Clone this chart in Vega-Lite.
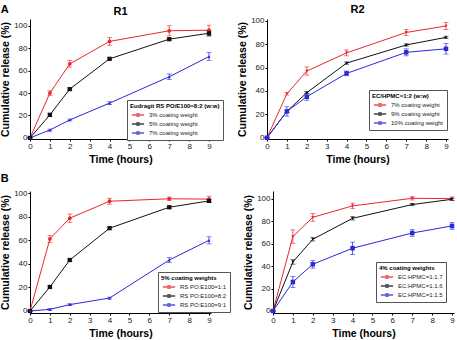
{
  "$schema": "https://vega.github.io/schema/vega-lite/v6.json",
  "padding": {"left": 0, "top": 3, "right": 1, "bottom": 2},
  "background": "white",
  "datasets": {
    "a1": [
      {"t": 0, "pct": 0, "err": 0, "s": "3% coating weight"},
      {"t": 1, "pct": 40, "err": 2, "s": "3% coating weight"},
      {"t": 2, "pct": 66, "err": 3, "s": "3% coating weight"},
      {"t": 4, "pct": 86, "err": 3.5, "s": "3% coating weight"},
      {"t": 7, "pct": 95.5, "err": 4.5, "s": "3% coating weight"},
      {"t": 9, "pct": 96, "err": 4.5, "s": "3% coating weight"},
      {"t": 0, "pct": 0, "err": 0, "s": "5% coating weight"},
      {"t": 1, "pct": 20.5, "err": 1.5, "s": "5% coating weight"},
      {"t": 2, "pct": 43.5, "err": 1, "s": "5% coating weight"},
      {"t": 4, "pct": 70.5, "err": 1, "s": "5% coating weight"},
      {"t": 7, "pct": 88, "err": 1, "s": "5% coating weight"},
      {"t": 9, "pct": 93.3, "err": 2.5, "s": "5% coating weight"},
      {"t": 0, "pct": 0, "err": 0, "s": "7% coating weight"},
      {"t": 1, "pct": 7, "err": 0.8, "s": "7% coating weight"},
      {"t": 2, "pct": 16, "err": 0.8, "s": "7% coating weight"},
      {"t": 4, "pct": 31, "err": 1.2, "s": "7% coating weight"},
      {"t": 7, "pct": 54.5, "err": 2.5, "s": "7% coating weight"},
      {"t": 9, "pct": 72.5, "err": 3.5, "s": "7% coating weight"}
    ],
    "a2": [
      {"t": 0, "pct": 0, "err": 0, "s": "7% coating weight"},
      {"t": 1, "pct": 37.5, "err": 1, "s": "7% coating weight"},
      {"t": 2, "pct": 57, "err": 3.5, "s": "7% coating weight"},
      {"t": 4, "pct": 72.5, "err": 2.5, "s": "7% coating weight"},
      {"t": 7, "pct": 90, "err": 2.5, "s": "7% coating weight"},
      {"t": 9, "pct": 95.5, "err": 3, "s": "7% coating weight"},
      {"t": 0, "pct": 0, "err": 0, "s": "9% coating weight"},
      {"t": 1, "pct": 22.5, "err": 1, "s": "9% coating weight"},
      {"t": 2, "pct": 38.5, "err": 1, "s": "9% coating weight"},
      {"t": 4, "pct": 63.8, "err": 1, "s": "9% coating weight"},
      {"t": 7, "pct": 79.3, "err": 1, "s": "9% coating weight"},
      {"t": 9, "pct": 85.8, "err": 1, "s": "9% coating weight"},
      {"t": 0, "pct": 0, "err": 0, "s": "10% coating weight"},
      {"t": 1, "pct": 22.5, "err": 4, "s": "10% coating weight"},
      {"t": 2, "pct": 35, "err": 3, "s": "10% coating weight"},
      {"t": 4, "pct": 55, "err": 2, "s": "10% coating weight"},
      {"t": 7, "pct": 73, "err": 3, "s": "10% coating weight"},
      {"t": 9, "pct": 76, "err": 4.5, "s": "10% coating weight"}
    ],
    "b1": [
      {"t": 0, "pct": 0, "err": 0, "s": "RS PO:E100=1:1"},
      {"t": 1, "pct": 61.2, "err": 3, "s": "RS PO:E100=1:1"},
      {"t": 2, "pct": 78.8, "err": 3.5, "s": "RS PO:E100=1:1"},
      {"t": 4, "pct": 93.2, "err": 2.5, "s": "RS PO:E100=1:1"},
      {"t": 7, "pct": 95.3, "err": 1.5, "s": "RS PO:E100=1:1"},
      {"t": 9, "pct": 95, "err": 2.5, "s": "RS PO:E100=1:1"},
      {"t": 0, "pct": 0, "err": 0, "s": "RS PO:E100=8:2"},
      {"t": 1, "pct": 20.4, "err": 1, "s": "RS PO:E100=8:2"},
      {"t": 2, "pct": 43.3, "err": 1, "s": "RS PO:E100=8:2"},
      {"t": 4, "pct": 70.3, "err": 1, "s": "RS PO:E100=8:2"},
      {"t": 7, "pct": 88.1, "err": 1, "s": "RS PO:E100=8:2"},
      {"t": 9, "pct": 93.5, "err": 1.5, "s": "RS PO:E100=8:2"},
      {"t": 0, "pct": 0, "err": 0, "s": "RS PO:E100=9:1"},
      {"t": 1, "pct": 1.4, "err": 0.8, "s": "RS PO:E100=9:1"},
      {"t": 2, "pct": 5.4, "err": 0.8, "s": "RS PO:E100=9:1"},
      {"t": 4, "pct": 11, "err": 0.8, "s": "RS PO:E100=9:1"},
      {"t": 7, "pct": 43.3, "err": 2, "s": "RS PO:E100=9:1"},
      {"t": 9, "pct": 60, "err": 3, "s": "RS PO:E100=9:1"}
    ],
    "b2": [
      {"t": 0, "pct": 0, "err": 0, "s": "EC:HPMC=1:1.7"},
      {"t": 1, "pct": 66.4, "err": 6, "s": "EC:HPMC=1:1.7"},
      {"t": 2, "pct": 83.6, "err": 3.5, "s": "EC:HPMC=1:1.7"},
      {"t": 4, "pct": 93.8, "err": 2.5, "s": "EC:HPMC=1:1.7"},
      {"t": 7, "pct": 100.6, "err": 1.5, "s": "EC:HPMC=1:1.7"},
      {"t": 9, "pct": 100.3, "err": 1.5, "s": "EC:HPMC=1:1.7"},
      {"t": 0, "pct": 0, "err": 0, "s": "EC:HPMC=1:1.6"},
      {"t": 1, "pct": 43.8, "err": 2, "s": "EC:HPMC=1:1.6"},
      {"t": 2, "pct": 64, "err": 1.5, "s": "EC:HPMC=1:1.6"},
      {"t": 4, "pct": 82.7, "err": 1.5, "s": "EC:HPMC=1:1.6"},
      {"t": 7, "pct": 95, "err": 1, "s": "EC:HPMC=1:1.6"},
      {"t": 9, "pct": 99.7, "err": 1, "s": "EC:HPMC=1:1.6"},
      {"t": 0, "pct": 0, "err": 0, "s": "EC:HPMC=1:1.5"},
      {"t": 1, "pct": 25.9, "err": 5, "s": "EC:HPMC=1:1.5"},
      {"t": 2, "pct": 41.7, "err": 3.5, "s": "EC:HPMC=1:1.5"},
      {"t": 4, "pct": 56, "err": 5.5, "s": "EC:HPMC=1:1.5"},
      {"t": 7, "pct": 69.6, "err": 3, "s": "EC:HPMC=1:1.5"},
      {"t": 9, "pct": 75.9, "err": 3, "s": "EC:HPMC=1:1.5"}
    ]
  },
  "config": {
    "font": "Liberation Sans",
    "view": {"stroke": null},
    "axis": {
      "grid": false,
      "domainColor": "#000",
      "tickColor": "#000",
      "tickSize": 2,
      "labelFont": "Liberation Sans",
      "labelFontSize": 8,
      "labelColor": "#222",
      "labelPadding": 1,
      "labelFlush": false,
      "labelOverlap": false,
      "titleFont": "Liberation Sans",
      "titleFontSize": 10.5,
      "titleFontWeight": "bold",
      "titleColor": "#000"
    },
    "title": {"font": "Liberation Sans", "fontSize": 11, "fontWeight": "bold", "color": "#000", "offset": 2},
    "legend": {
      "titleFont": "Liberation Sans",
      "titleFontSize": 6,
      "titleFontWeight": "bold",
      "titleColor": "#000",
      "titlePadding": 2,
      "labelFont": "Liberation Sans",
      "labelFontSize": 6,
      "labelColor": "#222",
      "strokeColor": "#555",
      "fillColor": "white",
      "padding": 3,
      "rowPadding": 1,
      "symbolSize": 49,
      "symbolOffset": 4,
      "labelOffset": 7,
      "symbolStrokeWidth": 1,
      "symbolType": "M-1.7,-0.06H1.7V0.06H-1.7Z M-0.4,-0.4H0.4V0.4H-0.4Z"
    }
  },
  "resolve": {
    "scale": {"color": "independent"},
    "legend": {"color": "independent"}
  },
  "spacing": 8,
  "vconcat": [
    {
      "title": {"text": "A", "anchor": "start", "frame": "bounds", "offset": -11},
      "spacing": 13,
      "resolve": {"scale": {"color": "independent"}, "legend": {"color": "independent"}},
      "hconcat": [
        {
          "width": 181,
          "height": 120,
          "title": "R1",
          "data": {"name": "a1"},
          "encoding": {
            "x": {"field": "t", "type": "quantitative", "scale": {"domain": [0, 9.1]}, "axis": {"values": [0, 1, 2, 3, 4, 5, 6, 7, 8, 9], "title": "Time (hours)", "titlePadding": 4}},
            "y": {"field": "pct", "type": "quantitative", "scale": {"domain": [-1, 106]}, "axis": {"values": [0, 20, 40, 60, 80, 100], "title": "Cumulative release (%)", "titlePadding": 3}},
            "color": {"field": "s", "type": "nominal", "scale": {"domain": ["3% coating weight", "5% coating weight", "7% coating weight"], "range": ["#e8262c", "#111111", "#2a2ad8"]}, "legend": {"orient": "none", "legendX": 97, "legendY": 81, "title": "Eudragit RS PO/E100=8:2 (w:w)"}}
          },
          "layer": [
            {"mark": {"type": "line", "strokeWidth": 1}},
            {"mark": {"type": "errorbar", "thickness": 0.8, "ticks": {"size": 5, "thickness": 0.8}}, "encoding": {"yError": {"field": "err"}}},
            {"transform": [{"filter": {"field": "s", "equal": "3% coating weight"}}], "mark": {"type": "point", "filled": true, "opacity": 1, "shape": "circle", "size": 14}},
            {"transform": [{"filter": {"field": "s", "equal": "5% coating weight"}}], "mark": {"type": "point", "filled": true, "opacity": 1, "shape": "square", "size": 18}},
            {"transform": [{"filter": {"field": "s", "equal": "7% coating weight"}}], "mark": {"type": "point", "filled": true, "opacity": 1, "shape": "triangle-up", "size": 10}}
          ]
        },
        {
          "width": 181,
          "height": 120,
          "title": "R2",
          "data": {"name": "a2"},
          "encoding": {
            "x": {"field": "t", "type": "quantitative", "scale": {"domain": [0, 9.1]}, "axis": {"values": [0, 1, 2, 3, 4, 5, 6, 7, 8, 9], "title": "Time (hours)", "titlePadding": 4}},
            "y": {"field": "pct", "type": "quantitative", "scale": {"domain": [-1.1, 101.5]}, "axis": {"values": [0, 20, 40, 60, 80, 100], "title": "Cumulative release (%)", "titlePadding": 3}},
            "color": {"field": "s", "type": "nominal", "scale": {"domain": ["7% coating weight", "9% coating weight", "10% coating weight"], "range": ["#e8262c", "#111111", "#2a2ad8"]}, "legend": {"orient": "none", "legendX": 102, "legendY": 71, "title": "EC/HPMC=1:2 (w:w)"}}
          },
          "layer": [
            {"mark": {"type": "line", "strokeWidth": 1}},
            {"mark": {"type": "errorbar", "thickness": 0.8, "ticks": {"size": 5, "thickness": 0.8}}, "encoding": {"yError": {"field": "err"}}},
            {"transform": [{"filter": {"field": "s", "equal": "7% coating weight"}}], "mark": {"type": "point", "filled": true, "opacity": 1, "shape": "triangle-down", "size": 10}},
            {"transform": [{"filter": {"field": "s", "equal": "9% coating weight"}}], "mark": {"type": "point", "filled": true, "opacity": 1, "shape": "diamond", "size": 9}},
            {"transform": [{"filter": {"field": "s", "equal": "10% coating weight"}}], "mark": {"type": "point", "filled": true, "opacity": 1, "shape": "square", "size": 20}}
          ]
        }
      ]
    },
    {
      "title": {"text": "B", "anchor": "start", "frame": "bounds", "offset": 5},
      "spacing": 12,
      "resolve": {"scale": {"color": "independent"}, "legend": {"color": "independent"}},
      "hconcat": [
        {
          "width": 181,
          "height": 122,
          "data": {"name": "b1"},
          "encoding": {
            "x": {"field": "t", "type": "quantitative", "scale": {"domain": [0, 9.1]}, "axis": {"values": [0, 1, 2, 3, 4, 5, 6, 7, 8, 9], "title": "Time (hours)", "titlePadding": 4}},
            "y": {"field": "pct", "type": "quantitative", "scale": {"domain": [-1.7, 101.9]}, "axis": {"values": [0, 20, 40, 60, 80, 100], "title": "Cumulative release (%)", "titlePadding": 3}},
            "color": {"field": "s", "type": "nominal", "scale": {"domain": ["RS PO:E100=1:1", "RS PO:E100=8:2", "RS PO:E100=9:1"], "range": ["#e8262c", "#111111", "#2a2ad8"]}, "legend": {"orient": "none", "legendX": 128, "legendY": 81, "title": "5% coating weights"}}
          },
          "layer": [
            {"mark": {"type": "line", "strokeWidth": 1}},
            {"mark": {"type": "errorbar", "thickness": 0.8, "ticks": {"size": 5, "thickness": 0.8}}, "encoding": {"yError": {"field": "err"}}},
            {"transform": [{"filter": {"field": "s", "equal": "RS PO:E100=1:1"}}], "mark": {"type": "point", "filled": true, "opacity": 1, "shape": "circle", "size": 14}},
            {"transform": [{"filter": {"field": "s", "equal": "RS PO:E100=8:2"}}], "mark": {"type": "point", "filled": true, "opacity": 1, "shape": "square", "size": 18}},
            {"transform": [{"filter": {"field": "s", "equal": "RS PO:E100=9:1"}}], "mark": {"type": "point", "filled": true, "opacity": 1, "shape": "triangle-up", "size": 10}}
          ]
        },
        {
          "width": 181,
          "height": 122,
          "data": {"name": "b2"},
          "encoding": {
            "x": {"field": "t", "type": "quantitative", "scale": {"domain": [0, 9.1]}, "axis": {"values": [0, 1, 2, 3, 4, 5, 6, 7, 8, 9], "title": "Time (hours)", "titlePadding": 4}},
            "y": {"field": "pct", "type": "quantitative", "scale": {"domain": [-1.8, 107.1]}, "axis": {"values": [0, 20, 40, 60, 80, 100], "title": "Cumulative release (%)", "titlePadding": 3}},
            "color": {"field": "s", "type": "nominal", "scale": {"domain": ["EC:HPMC=1:1.7", "EC:HPMC=1:1.6", "EC:HPMC=1:1.5"], "range": ["#e8262c", "#111111", "#2a2ad8"]}, "legend": {"orient": "none", "legendX": 103, "legendY": 71, "title": "4% coating weights"}}
          },
          "layer": [
            {"mark": {"type": "line", "strokeWidth": 1}},
            {"mark": {"type": "errorbar", "thickness": 0.8, "ticks": {"size": 5, "thickness": 0.8}}, "encoding": {"yError": {"field": "err"}}},
            {"transform": [{"filter": {"field": "s", "equal": "EC:HPMC=1:1.7"}}], "mark": {"type": "point", "filled": true, "opacity": 1, "shape": "triangle-down", "size": 10}},
            {"transform": [{"filter": {"field": "s", "equal": "EC:HPMC=1:1.6"}}], "mark": {"type": "point", "filled": true, "opacity": 1, "shape": "triangle-down", "size": 9}},
            {"transform": [{"filter": {"field": "s", "equal": "EC:HPMC=1:1.5"}}], "mark": {"type": "point", "filled": true, "opacity": 1, "shape": "square", "size": 20}}
          ]
        }
      ]
    }
  ]
}
